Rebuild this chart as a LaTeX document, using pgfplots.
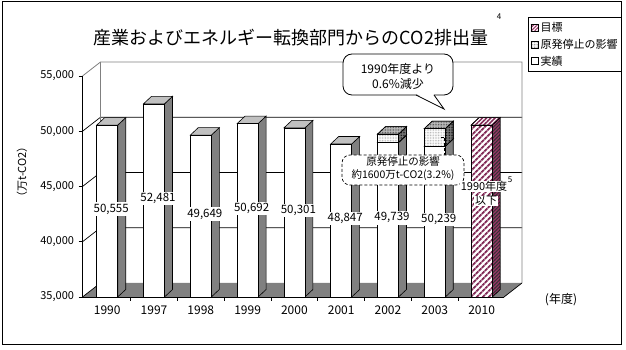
\documentclass[border=0pt]{standalone}
\usepackage{fontspec}
\setmainfont{Noto Sans CJK JP}
\usepackage{pgfplots}
\pgfplotsset{compat=1.18}
\usepackage{pgfplotstable}
\usetikzlibrary{patterns,patterns.meta}

\definecolor{cgray}{HTML}{808080}
\definecolor{csilver}{HTML}{C0C0C0}
\definecolor{cmaroon}{HTML}{993366}

% actual emissions (white part), label = reported total
\pgfplotstableread{
x top base lab
0 50555 35000 50,555
1 52481 35000 52,481
2 49649 35000 49,649
3 50692 35000 50,692
4 50301 35000 50,301
5 48847 35000 48,847
6 48979 35000 49,739
7 48639 35000 50,239
}\actual
% effect of nuclear plant shutdown (stacked on top)
\pgfplotstableread{
x top base
6 49739 48979
7 50239 48639
}\genpa
% 2010 target
\pgfplotstableread{
x top base
8 50555 35000
}\target

\newcommand\prismmark[3]{%
  \begin{scope}[shift={(4pt,2pt)}, line width=0.6pt]
    \path[#2] (10.5pt,0pt) -- (18.5pt,7.5pt) -- (18.5pt,7.5pt-\hh pt) -- (10.5pt,-\hh pt) -- cycle;
    \path[#3] (-10.5pt,0pt) -- (10.5pt,0pt) -- (18.5pt,7.5pt) -- (-2.5pt,7.5pt) -- cycle;
    \path[#1] (-10.5pt,-\hh pt) rectangle (10.5pt,0pt);
  \end{scope}}

\pgfdeclareplotmark{pwhite}{\prismmark{draw=black,fill=white}{draw=black,fill=cgray}{draw=black,fill=csilver}}
\pgfdeclareplotmark{pdots}{\prismmark%
  {draw=black,preaction={fill=white},pattern={Dots[distance=1.6pt,radius=0.45pt]},pattern color=black!35}%
  {draw=black,preaction={fill=cgray},pattern={Dots[distance=1.6pt,radius=0.5pt]},pattern color=black}%
  {draw=black,preaction={fill=csilver},pattern={Dots[distance=1.6pt,radius=0.5pt]},pattern color=black!70}}
\pgfdeclareplotmark{ptarget}{\prismmark%
  {draw=black,preaction={fill=white},pattern={Lines[angle=45,distance=4pt,line width=2.1pt]},pattern color=cmaroon!85!black}%
  {draw=black,preaction={fill=black!80},pattern={Lines[angle=45,distance=2.5pt,line width=1.2pt]},pattern color=cmaroon}%
  {draw=black,preaction={fill=white},pattern={Lines[angle=45,distance=3pt,line width=1.5pt]},pattern color=cmaroon!85!black}}

\tikzset{back/.style={shift={(18pt,14pt)}}}
\def\XL{-0.528}
\def\XR{8.479}

\begin{document}
\begin{tikzpicture}
\useasboundingbox (0pt,0pt) rectangle (626pt,350pt);
\draw[line width=1pt] (2pt,5pt) rectangle (621pt,348pt);

\begin{axis}[
  at={(82.5pt,53pt)}, anchor=south west,
  scale only axis, width=421.5pt, height=221pt,
  xmin=\XL, xmax=\XR, ymin=35000, ymax=55000,
  clip=false, axis on top,
  axis x line*=bottom, axis y line*=left,
  axis line style={line width=0.8pt,-},
  xtick={0,...,8},
  xticklabels={1990,1997,1998,1999,2000,2001,2002,2003,2010},
  xtick style={draw=none},
  extra x ticks={0.5,1.5,...,7.5},
  extra x tick labels={},
  extra x tick style={xtick style={draw=black,line width=0.7pt}, tick align=outside, major tick length=4pt},
  ytick={35000,40000,...,55000},
  ytick style={draw=black,line width=0.7pt},
  tick align=outside, major tick length=4pt,
  scaled y ticks=false,
  /pgf/number format/1000 sep={,},
  /pgf/number format/assume math mode=true,
  yticklabel style={font=\fontsize{11}{12}\selectfont, xshift=-1pt},
  xticklabel style={font=\fontsize{12}{13}\selectfont, yshift=-1pt},
  reverse legend,
  legend cell align=left,
  legend style={at={(axis description cs:1.057,1.267)}, anchor=north west,
    draw=black, line width=0.8pt, fill=white,
    font=\fontsize{11}{12}\selectfont,
    inner xsep=2pt, inner ysep=3pt, row sep=2pt,
    /tikz/every even column/.append style={column sep=1pt}},
  visualization depends on={(\thisrow{top}-\thisrow{base})*0.01105 \as \hh},
]
% floor
\fill[cgray] (axis cs:\XL,35000) -- (axis cs:\XR,35000) -- ([back]axis cs:\XR,35000) -- ([back]axis cs:\XL,35000) -- cycle;
% back wall and left wall grid
\pgfplotsinvokeforeach{40000,45000,50000}{%
  \draw[line width=0.7pt] (axis cs:\XL,#1) -- ([back]axis cs:\XL,#1) -- ([back]axis cs:\XR,#1);}
\draw[cgray, line width=0.8pt] (axis cs:\XL,55000) -- ([back]axis cs:\XL,55000) -- ([back]axis cs:\XR,55000) -- ([back]axis cs:\XR,35000);
\draw[cgray, line width=0.8pt] ([back]axis cs:\XL,55000) -- ([back]axis cs:\XL,35000);
\draw[line width=0.7pt] (axis cs:\XR,35000) -- ([back]axis cs:\XR,35000);
\draw[line width=0.7pt] (axis cs:\XL,35000) -- ([back]axis cs:\XL,35000);

\addplot[only marks, mark=pwhite,
  legend image code/.code={\path[draw=black,line width=0.6pt,fill=white] (0pt,-3.5pt) rectangle (7pt,3.5pt);}]
  table[x=x,y=top] {\actual};
\addlegendentry{実績}
\addplot[only marks, mark=pdots,
  legend image code/.code={\path[draw=black,line width=0.6pt,preaction={fill=white},pattern={Dots[distance=1.6pt,radius=0.45pt]},pattern color=black!50] (0pt,-3.5pt) rectangle (7pt,3.5pt);}]
  table[x=x,y=top] {\genpa};
\addlegendentry{原発停止の影響}
\addplot[only marks, mark=ptarget,
  legend image code/.code={\path[draw=black,line width=0.6pt,preaction={fill=white},pattern={Lines[angle=45,distance=2.5pt,line width=1.1pt]},pattern color=cmaroon] (0pt,-3.5pt) rectangle (7pt,3.5pt);}]
  table[x=x,y=top] {\target};
\addlegendentry{目標}

% data labels
\addplot[draw=none, forget plot, nodes near coords, point meta=explicit symbolic,
  nodes near coords style={anchor=center, fill=white, inner xsep=1.5pt, inner ysep=1.5pt,
    xshift=4pt, yshift=2pt, font=\fontsize{11.5}{12}\selectfont}]
  table[x=x, y expr=(\thisrow{top}+\thisrow{base})/2, meta=lab] {\actual};
\end{axis}

% title
\node[font=\fontsize{18}{20}\selectfont] at (291pt,312pt) {産業およびエネルギー転換部門からのCO2排出量};
\node[font=\fontsize{8}{9}\selectfont] at (499pt,333pt) {4};
% y label
\node[rotate=90, font=\fontsize{11}{12}\selectfont] at (22pt,178pt) {（万t-CO2）};
% x unit
\node[font=\fontsize{12}{13}\selectfont] at (561pt,50pt) {(年度)};

% callout 1
\draw[line width=0.8pt, fill=white, rounded corners=9pt] (343pt,255pt) rectangle (453pt,296pt);
\fill[white] (416.5pt,256pt) -- (433.5pt,256pt) -- (444pt,241pt) -- cycle;
\draw[line width=0.8pt] (416pt,255pt) -- (444pt,241pt) -- (434pt,255pt);
\node[align=center, font=\fontsize{12}{15}\selectfont] at (398pt,273.5pt) {1990年度より\\0.6\%減少};

% callout 2
\draw[line width=0.7pt, dash pattern=on 3pt off 2pt] (440.5pt,213pt) -- (444pt,213pt) -- (444pt,193pt);
\draw[line width=0.7pt, fill=white, dash pattern=on 3pt off 2pt, rounded corners=8pt] (342pt,165pt) rectangle (464pt,195pt);
\node[align=center, font=\fontsize{10.5}{13.3}\selectfont] at (403pt,181.7pt) {原発停止の影響\\約1600万t-CO2(3.2\%)};

% 2010 note
\node[fill=white, inner xsep=1pt, inner ysep=0pt, font=\fontsize{11}{12}\selectfont] at (484pt,163.5pt) {1990年度};
\node[font=\fontsize{8}{9}\selectfont] at (510pt,170pt) {5};
\node[fill=white, inner xsep=1pt, inner ysep=0pt, font=\fontsize{11}{12}\selectfont] at (486pt,149pt) {以下};
\end{tikzpicture}
\end{document}
